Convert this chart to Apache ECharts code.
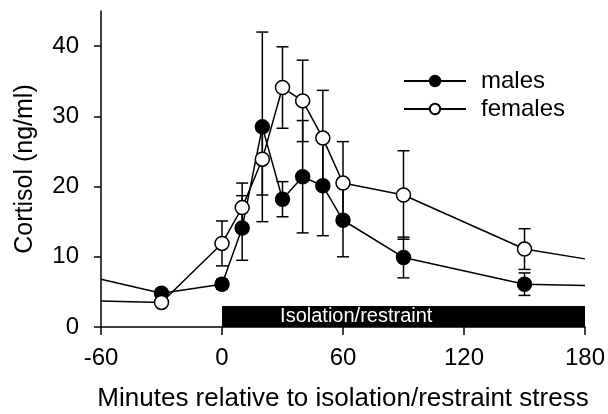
<!DOCTYPE html>
<html>
<head>
<meta charset="utf-8">
<script src="https://cdn.jsdelivr.net/npm/echarts@6/dist/echarts.min.js"></script>
<style>html,body{margin:0;padding:0;background:#fff;}#c{width:608px;height:414px;}</style>
</head>
<body>
<div id="c"></div>
<script>
const timePoints = [-60, -30, 0, 10, 20, 30, 40, 50, 60, 90, 150, 180];
const males = [6.8, 4.8, 6.1, 14.1, 28.5, 18.2, 21.4, 20.1, 15.2, 9.9, 6.1, 5.9];
const malesErr = [null, 0.5, 0.7, 4.6, 13.5, 2.5, 8.0, 7.1, 5.2, 2.9, 1.6, null];
const females = [3.7, 3.5, 11.9, 17.0, 23.9, 34.1, 32.2, 26.9, 20.5, 18.8, 11.1, 9.7];
const femalesErr = [null, 0.3, 3.2, 3.5, 5.1, 5.8, 5.8, 6.8, 5.9, 6.3, 2.9, null];
const xTicks = [-60, 0, 60, 120, 180];
const yTicks = [0, 10, 20, 30, 40];
const stressStart = 0, stressEnd = 180, stressBandTop = 3;
const stressLabel = 'Isolation/restraint';
const seriesNames = ['males', 'females'];

const FONT = 'Liberation Sans, Arial, sans-serif';
const chart = echarts.init(document.getElementById('c'), null, {renderer: 'canvas'});

function lineData(vals) {
  return timePoints.map((t, i) => {
    const edge = (i === 0 || i === timePoints.length - 1);
    return edge ? {value: [t, vals[i]], symbol: 'none'} : {value: [t, vals[i]]};
  });
}
function errData(vals, errs) {
  const out = [];
  timePoints.forEach((t, i) => { if (errs[i] != null) out.push([t, vals[i] - errs[i], vals[i] + errs[i]]); });
  return out;
}
function errRender(params, api) {
  const x = api.value(0);
  const lo = api.coord([x, api.value(1)]);
  const hi = api.coord([x, api.value(2)]);
  const w = 6;
  const st = {stroke: '#000', lineWidth: 1.5};
  return {type: 'group', children: [
    {type: 'line', shape: {x1: lo[0], y1: lo[1], x2: hi[0], y2: hi[1]}, style: st},
    {type: 'line', shape: {x1: lo[0] - w, y1: lo[1], x2: lo[0] + w, y2: lo[1]}, style: st},
    {type: 'line', shape: {x1: hi[0] - w, y1: hi[1], x2: hi[0] + w, y2: hi[1]}, style: st}
  ]};
}

const option = {
  animation: false,
  backgroundColor: '#fff',
  textStyle: {fontFamily: FONT, color: '#000'},
  grid: {left: 101, right: 23, top: 11, bottom: 87, containLabel: false, outerBoundsMode: 'none'},
  legend: {
    orient: 'vertical', left: 398, top: 64,
    itemWidth: 62, itemHeight: 13, itemGap: 4,
    data: seriesNames,
    textStyle: {fontFamily: FONT, fontSize: 24, color: '#000', padding: [0, 0, 0, 10]}
  },
  xAxis: {
    type: 'value', min: -60, max: 180, interval: 60,
    name: 'Minutes relative to isolation/restraint stress',
    nameLocation: 'middle', nameGap: 59,
    nameTextStyle: {fontFamily: FONT, fontSize: 26, color: '#000'},
    axisLine: {show: true, onZero: false, lineStyle: {color: '#000', width: 1.5}},
    axisTick: {show: true, length: 8, inside: false, lineStyle: {color: '#000', width: 1.5}, customValues: xTicks},
    axisLabel: {fontFamily: FONT, fontSize: 24, color: '#000', margin: 19, customValues: xTicks},
    splitLine: {show: false}
  },
  yAxis: {
    type: 'value', min: 0, max: 45, interval: 10,
    name: 'Cortisol (ng/ml)',
    nameLocation: 'middle', nameGap: 63,
    nameTextStyle: {fontFamily: FONT, fontSize: 25, color: '#000'},
    axisLine: {show: true, onZero: false, lineStyle: {color: '#000', width: 1.5}},
    axisTick: {show: true, length: 7, inside: false, lineStyle: {color: '#000', width: 1.5}, customValues: yTicks},
    axisLabel: {fontFamily: FONT, fontSize: 24, color: '#000', margin: 22, customValues: yTicks},
    splitLine: {show: false}
  },
  series: [
    {
      type: 'custom', name: 'malesErr', renderItem: errRender, data: errData(males, malesErr),
      encode: {x: 0, y: [1, 2]}, z: 1, silent: true, clip: false
    },
    {
      type: 'custom', name: 'femalesErr', renderItem: errRender, data: errData(females, femalesErr),
      encode: {x: 0, y: [1, 2]}, z: 1, silent: true, clip: false
    },
    {
      type: 'line', name: seriesNames[0], data: lineData(males), z: 3,
      symbol: 'circle', symbolSize: 14, showAllSymbol: true,
      lineStyle: {color: '#000', width: 1.5},
      itemStyle: {color: '#000', borderColor: '#000', borderWidth: 1.5},
      markArea: {
        silent: true,
        itemStyle: {color: '#000', opacity: 1, borderWidth: 0},
        label: {show: true, position: ['16%', '50%'], align: 'left', verticalAlign: 'middle',
                color: '#fff', fontFamily: FONT, fontSize: 20},
        data: [[{name: stressLabel, xAxis: stressStart, yAxis: 0}, {xAxis: stressEnd, yAxis: stressBandTop}]]
      }
    },
    {
      type: 'line', name: seriesNames[1], data: lineData(females), z: 4,
      symbol: 'circle', symbolSize: 14, showAllSymbol: true,
      lineStyle: {color: '#000', width: 1.5},
      itemStyle: {color: '#fff', borderColor: '#000', borderWidth: 1.5}
    }
  ]
};
chart.setOption(option);
</script>
</body>
</html>
